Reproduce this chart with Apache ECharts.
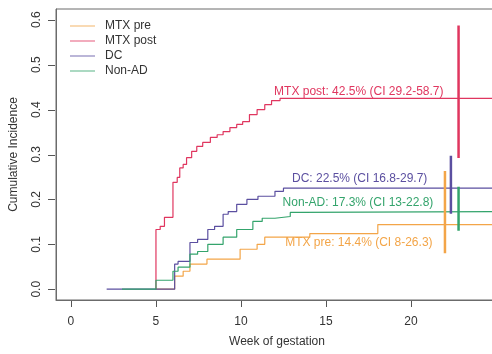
<!DOCTYPE html>
<html>
<head>
<meta charset="utf-8">
<script src="https://cdn.jsdelivr.net/npm/echarts@6/dist/echarts.min.js"></script>
<style>
  html, body { margin: 0; padding: 0; background: #fff; }
  #chart { width: 492px; height: 354px; }
</style>
</head>
<body>
<div id="chart"></div>
<script>
// group names, in legend order
var groups = ['MTX pre', 'MTX post', 'DC', 'Non-AD'];

// step times (weeks) and cumulative incidence
var mtxPreT = [5.0, 6.1, 6.6, 7.0, 8.0, 9.95, 10.95, 11.4, 14.05, 18.05, 25.2];
var mtxPreV = [0, 0.029, 0.04, 0.056, 0.067, 0.089, 0.1, 0.116, 0.124, 0.144, 0.144];

var mtxPostT = [5.0, 5.0, 5.25, 5.5, 6.0, 6.25, 6.4, 6.6, 6.8, 7.1, 7.4, 7.75, 8.2, 8.6, 8.95, 9.35, 9.75, 10.1, 10.5, 10.95, 11.4, 11.8, 12.3, 25.2];
var mtxPostV = [0, 0.133, 0.14, 0.16, 0.238, 0.249, 0.27, 0.278, 0.293, 0.307, 0.318, 0.327, 0.338, 0.344, 0.351, 0.36, 0.367, 0.373, 0.389, 0.4, 0.411, 0.42, 0.425, 0.425];

var dcT = [2.1, 6.1, 6.3, 7.0, 7.45, 8.05, 8.45, 8.95, 9.25, 9.75, 10.35, 11.0, 12.0, 12.5, 25.2];
var dcV = [0, 0.056, 0.062, 0.104, 0.111, 0.133, 0.14, 0.167, 0.173, 0.189, 0.2, 0.207, 0.218, 0.225, 0.225];

var nonAdT = [3.0, 5.0, 6.0, 6.3, 7.0, 7.45, 8.05, 8.95, 9.75, 10.7, 11.25, 12.0, 12.9, 13.5, 25.2];
var nonAdV = [0, 0.02, 0.04, 0.049, 0.078, 0.084, 0.1, 0.116, 0.133, 0.151, 0.158, 0.162, 0.171, 0.173, 0.173];

// confidence intervals at the end of follow-up
var ciWeek = [22.0, 22.8, 22.35, 22.8];
var ciLow = [0.08, 0.292, 0.168, 0.13];
var ciHigh = [0.263, 0.587, 0.297, 0.228];
var finalPct = [14.4, 42.5, 22.5, 17.3];

var xTicks = [0, 5, 10, 15, 20];
var yTicks = [0, 0.1, 0.2, 0.3, 0.4, 0.5, 0.6];

var colors = ['#F3A548', '#E0365F', '#5B4FA0', '#34A46C'];
var curvesT = [mtxPreT, mtxPostT, dcT, nonAdT];
var curvesV = [mtxPreV, mtxPostV, dcV, nonAdV];
// where each label sits (week, incidence)
var labelAt = [[12.6, 0.104], [11.95, 0.44], [13.0, 0.247], [12.45, 0.193]];

var xMin = -0.88, xMax = 25.12;
var yMin = -0.024, yMax = 0.624;

function pairs(t, v) {
    return t.map(function (x, i) { return [x, v[i]]; });
}
function pct(n) {
    return String(Math.round(n * 1000) / 10);
}

var series = [];
groups.forEach(function (name, i) {
    series.push({
        name: name,
        type: 'line',
        step: 'end',
        data: pairs(curvesT[i], curvesV[i]),
        showSymbol: false,
        symbol: 'none',
        color: colors[i],
        lineStyle: { width: 1.2, color: colors[i] },
        z: 2,
        markPoint: {
            symbol: 'circle',
            symbolSize: 0,
            data: [{
                coord: labelAt[i],
                label: {
                    show: true,
                    position: 'right',
                    distance: 0,
                    formatter: name + ': ' + finalPct[i] + '% (CI ' + pct(ciLow[i]) + '-' + pct(ciHigh[i]) + ')',
                    color: colors[i],
                    fontSize: 12,
                    fontFamily: 'Liberation Sans, Arial, sans-serif'
                }
            }]
        }
    });
});
groups.forEach(function (name, i) {
    series.push({
        name: name + ' CI',
        type: 'line',
        data: [[ciWeek[i], ciLow[i]], [ciWeek[i], ciHigh[i]]],
        showSymbol: false,
        symbol: 'none',
        lineStyle: { width: 2.5, color: colors[i] },
        z: 3,
        silent: true
    });
});

var myChart = echarts.init(document.getElementById('chart'));
var option = {
    animation: false,
    textStyle: { fontFamily: 'Liberation Sans, Arial, sans-serif' },
    grid: {
        left: 56, top: 9, right: -6, bottom: 54,
        outerBoundsMode: 'none',
        containLabel: false,
        show: true,
        borderColor: '#6b6b6b',
        borderWidth: 1
    },
    legend: {
        data: groups,
        orient: 'vertical',
        left: 65,
        top: 14,
        icon: 'rect',
        itemWidth: 25,
        itemHeight: 1.5,
        itemGap: 1,
        itemStyle: { opacity: 0.55 },
        textStyle: { fontSize: 12, color: '#333', lineHeight: 14, padding: [0, 0, 0, 5] }
    },
    xAxis: {
        type: 'value',
        min: xMin,
        max: xMax,
        name: 'Week of gestation',
        nameLocation: 'middle',
        nameGap: 36,
        nameTextStyle: { fontSize: 12, color: '#333' },
        axisLine: { show: true, onZero: false, lineStyle: { color: '#6b6b6b', width: 1 } },
        axisTick: { show: false },
        axisLabel: { fontSize: 12, color: '#333', margin: 16, customValues: xTicks },
        splitLine: { show: false }
    },
    yAxis: {
        type: 'value',
        min: yMin,
        max: yMax,
        name: 'Cumulative Incidence',
        nameLocation: 'middle',
        nameRotate: 90,
        nameGap: 36,
        nameTextStyle: { fontSize: 12, color: '#333' },
        axisLine: { show: true, onZero: false, lineStyle: { color: '#6b6b6b', width: 1 } },
        axisTick: { show: false },
        axisLabel: {
            fontSize: 12, color: '#333', margin: 13, rotate: 90,
            customValues: yTicks,
            formatter: function (v) { return v.toFixed(1); }
        },
        splitLine: { show: false }
    },
    series: series
};
myChart.setOption(option);

// tick marks outside the box, placed through the axis scales
var tickLines = [];
xTicks.forEach(function (t) {
    var p = myChart.convertToPixel({ gridIndex: 0 }, [t, yMin]);
    var x = Math.round(p[0]) + 0.5, y = Math.round(p[1]);
    tickLines.push({
        type: 'line', silent: true, z: 10,
        shape: { x1: x, y1: y + 1, x2: x, y2: y + 7 },
        style: { stroke: '#555', lineWidth: 1 }
    });
});
yTicks.forEach(function (v) {
    var p = myChart.convertToPixel({ gridIndex: 0 }, [xMin, v]);
    var x = Math.round(p[0]), y = Math.round(p[1]) + 0.5;
    tickLines.push({
        type: 'line', silent: true, z: 10,
        shape: { x1: x - 1, y1: y, x2: x - 8, y2: y },
        style: { stroke: '#555', lineWidth: 1 }
    });
});
myChart.setOption({ graphic: tickLines });

window.addEventListener('resize', function () {
    myChart.resize();
});
</script>
</body>
</html>
